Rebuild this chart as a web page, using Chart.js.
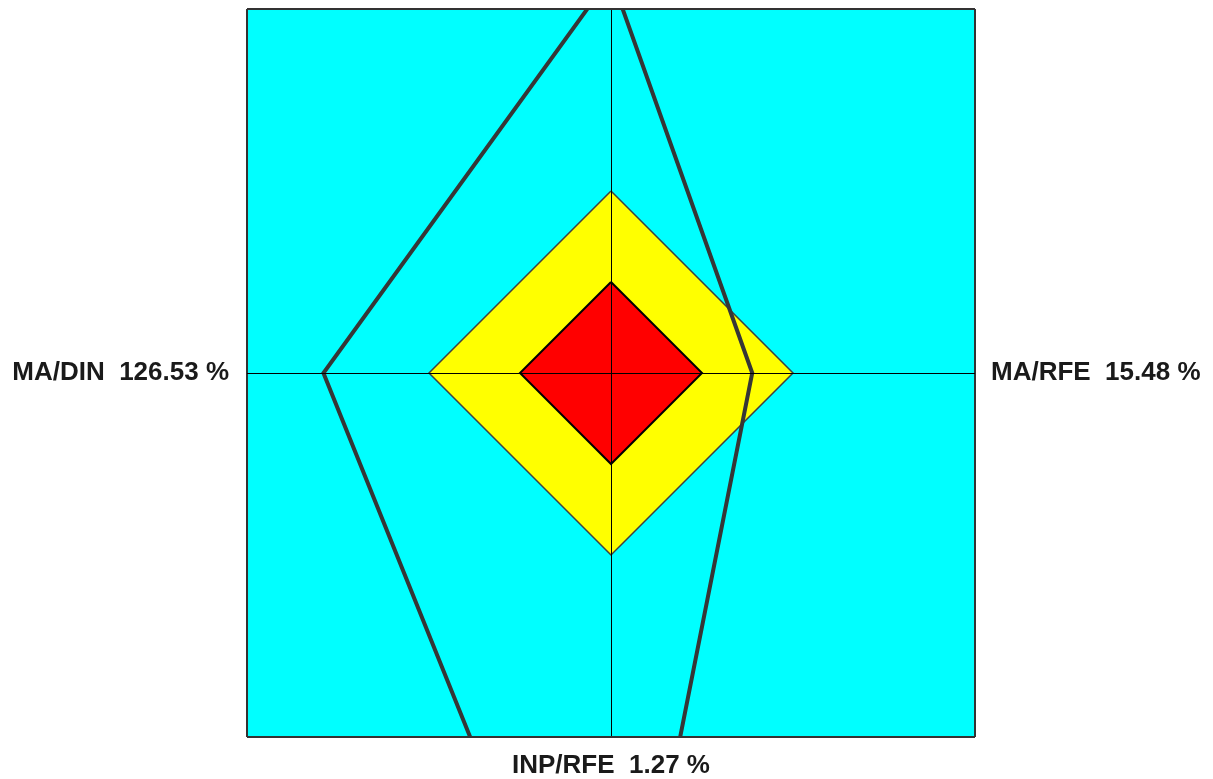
<!DOCTYPE html>
<html>
<head>
<meta charset="utf-8">
<title>Ratio diamond</title>
<script src="https://cdn.jsdelivr.net/npm/chart.js@4/dist/chart.umd.min.js"></script>
<style>
  html, body { margin: 0; padding: 0; background: #fff; }
  #wrap { width: 1213px; height: 779px; }
</style>
</head>
<body>
<div id="wrap"><canvas id="diamondChart"></canvas></div>
<script>
// spoke labels (right, bottom, left)
var axisNames = ['MA/RFE', 'INP/RFE', 'MA/DIN'];
var axisValues = ['15.48 %', '1.27 %', '126.53 %'];

// radii along the spokes, in order: top, right, bottom, left
var redZone = [0.25, 0.25, 0.25, 0.25];
var yellowZone = [0.5, 0.5, 0.5, 0.5];
var actual = [1.09, 0.388, 1.96, 0.79];

// turn the four spoke radii into a closed diamond
function toPoints(r) {
    return [
        {x: 0, y: r[0]},
        {x: r[1], y: 0},
        {x: 0, y: -r[2]},
        {x: -r[3], y: 0},
        {x: 0, y: r[0]}
    ];
}

function spokeLabel(i) {
    return axisNames[i] + '  ' + axisValues[i];
}

var labelFont = {family: '"Liberation Sans", Arial, sans-serif', size: 26, weight: 'bold'};

var plotBackground = {
    id: 'plotBackground',
    beforeDraw: function (chart) {
        var a = chart.chartArea;
        var c = chart.ctx;
        c.save();
        c.fillStyle = '#00ffff';
        c.fillRect(a.left, a.top, a.right - a.left, a.bottom - a.top);
        c.restore();
    }
};

function gridColor(ctx) {
    return ctx.tick && ctx.tick.value === 0 ? '#000000' : '#333333';
}
function gridWidth(ctx) {
    return ctx.tick && ctx.tick.value === 0 ? 1 : 2;
}

// fixed axis sizes, and no extra room for half labels at the ends
function fixWidth(w) {
    return function (s) {
        s.width = w;
        s.paddingTop = 0;
        s.paddingBottom = 0;
    };
}

var ctx = document.getElementById('diamondChart').getContext('2d');
var chart = new Chart(ctx, {
    type: 'scatter',
    data: {
        datasets: [{
            label: 'actual',
            data: toPoints(actual),
            showLine: true,
            fill: false,
            borderColor: '#363636',
            borderWidth: 4,
            pointRadius: 0,
            clip: 0,
            order: 0
        }, {
            label: 'red',
            data: toPoints(redZone),
            showLine: true,
            fill: 'shape',
            backgroundColor: '#ff0000',
            borderColor: '#000000',
            borderWidth: 2,
            pointRadius: 0,
            order: 1
        }, {
            label: 'yellow',
            data: toPoints(yellowZone),
            showLine: true,
            fill: 'shape',
            backgroundColor: '#ffff00',
            borderColor: '#404040',
            borderWidth: 1.5,
            pointRadius: 0,
            order: 2
        }]
    },
    options: {
        responsive: true,
        maintainAspectRatio: false,
        animation: false,
        layout: {
            padding: {top: 9, left: 0, right: 0, bottom: 0}
        },
        plugins: {
            legend: {display: false},
            tooltip: {enabled: false}
        },
        scales: {
            x: {
                type: 'linear',
                position: 'bottom',
                min: -1,
                max: 1,
                afterFit: function (s) {
                    s.height = 42;
                    s.paddingLeft = 0;
                    s.paddingRight = 0;
                },
                border: {display: false},
                grid: {color: gridColor, lineWidth: gridWidth, drawTicks: false, z: 1},
                ticks: {
                    stepSize: 1,
                    autoSkip: false,
                    maxRotation: 0,
                    padding: 13,
                    color: '#1a1a1a',
                    font: labelFont,
                    callback: function (v) { return v === 0 ? spokeLabel(1) : ''; }
                }
            },
            y: {
                type: 'linear',
                position: 'left',
                min: -1,
                max: 1,
                afterFit: fixWidth(247),
                border: {display: false},
                grid: {color: gridColor, lineWidth: gridWidth, drawTicks: false, z: 1},
                ticks: {
                    stepSize: 1,
                    autoSkip: false,
                    padding: 18,
                    color: '#1a1a1a',
                    font: labelFont,
                    callback: function (v) { return v === 0 ? spokeLabel(2) : ''; }
                }
            },
            y2: {
                type: 'linear',
                position: 'right',
                min: -1,
                max: 1,
                afterFit: fixWidth(238),
                border: {display: false},
                grid: {display: false, drawTicks: false},
                ticks: {
                    stepSize: 1,
                    autoSkip: false,
                    padding: 16,
                    color: '#1a1a1a',
                    font: labelFont,
                    callback: function (v) { return v === 0 ? spokeLabel(0) : ''; }
                }
            }
        }
    },
    plugins: [plotBackground]
});
</script>
</body>
</html>
